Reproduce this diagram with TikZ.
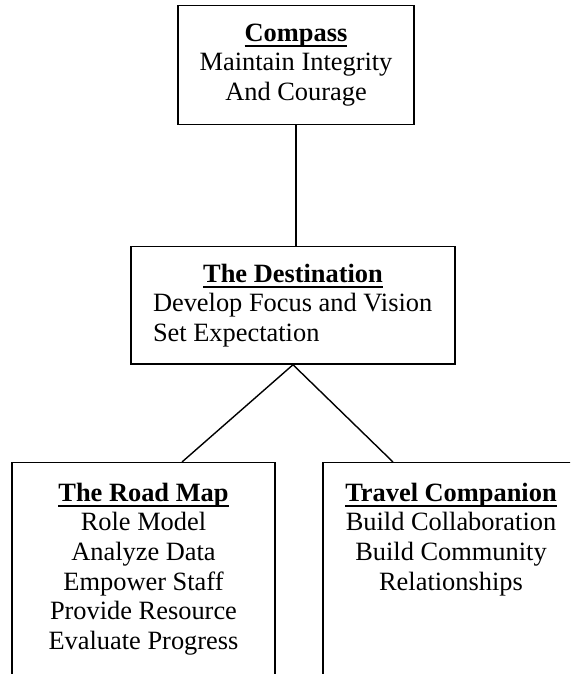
\documentclass[tikz,border=0pt]{standalone}
\usepackage{fontspec}
\setmainfont{Liberation Serif}
\newcommand{\boxhead}[1]{\setbox0\hbox{\textbf{#1}}\rlap{\rule[-5.5pt]{\wd0}{1.8pt}}\box0}

\begin{document}
\begin{tikzpicture}[x=1pt, y=-1pt,
            every node/.style = {draw, line width=1.4pt, align=center, anchor=north,
                inner sep=18pt, font=\fontsize{26.4}{29.7}\selectfont},
            link/.style = {line width=1.4pt}]
            \useasboundingbox (0,0) rectangle (570,674);
            \clip (0,0) rectangle (570,674);
            \node[minimum width=236pt] (compass) at (296,5)
                {\boxhead{Compass}\\ Maintain Integrity\\ And Courage};
            \node[minimum width=324pt, inner ysep=17pt, align=left] (dest) at (293,246)
                {\makebox[280pt]{\boxhead{The Destination}}\\ Develop Focus and Vision\\ Set Expectation};
            \node[minimum width=263pt, inner ysep=20pt, text depth=180pt] (road) at (143.5,462)
                {\boxhead{The Road Map}\\ Role Model\\ Analyze Data\\ Empower Staff\\ Provide Resource\\ Evaluate Progress};
            \node[minimum width=256pt, inner ysep=20pt, text depth=180pt] (travel) at (451,462)
                {\boxhead{Travel Companion}\\ Build Collaboration\\ Build Community\\ Relationships};
            \draw[link] (compass.south) -- (compass.south |- dest.north);
            \draw[link] (dest.south) -- ([xshift=38.5pt]road.north);
            \draw[link] (dest.south) -- ([xshift=-58pt]travel.north);
        \end{tikzpicture}
\end{document}
